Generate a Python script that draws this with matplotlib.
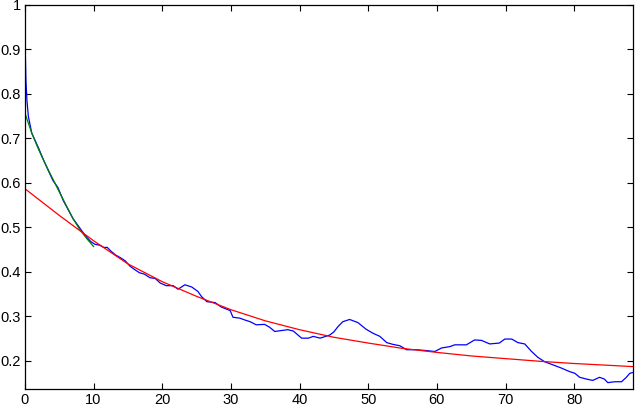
import matplotlib
matplotlib.use("Agg")
import matplotlib.pyplot as plt

# measured curve (blue)
meas_x = [0, 0.05, 0.15, 0.3, 0.5, 1.0, 1.5, 2.0, 2.7, 3.4, 4.1, 4.8, 5.6, 6.3,
          7.0, 7.7, 8.4, 9.0, 9.6, 10.2, 10.9, 11.5, 12.0, 12.5, 13.2, 13.9,
          14.6, 15.3, 16.0, 16.7, 17.4, 18.2, 19.0, 19.7, 20.6, 21.6, 22.3,
          23.3, 24.3, 25.2, 25.7, 26.5, 27.7, 28.6, 29.9, 30.3, 31.3, 32.0,
          32.8, 33.7, 34.9, 35.6, 36.4, 37.3, 38.3, 39.1, 40.3, 41.3, 42.0,
          43.0, 44.4, 45.0, 45.6, 46.3, 47.3, 48.5, 49.7, 50.7, 51.7, 52.7,
          53.6, 54.6, 55.6, 57.0, 58.5, 59.7, 60.7, 61.9, 62.6, 63.3, 64.3,
          65.5, 66.5, 67.7, 69.1, 69.9, 70.9, 71.8, 72.8, 73.8, 74.7, 75.7,
          76.9, 78.1, 79.3, 80.1, 80.8, 81.8, 82.7, 83.7, 84.4, 84.9, 85.9,
          86.9, 87.6, 88.1, 88.6]
meas_y = [1.0, 0.90, 0.83, 0.785, 0.750, 0.712, 0.695, 0.678, 0.652, 0.628,
          0.605, 0.590, 0.560, 0.540, 0.520, 0.505, 0.490, 0.478, 0.468, 0.462,
          0.460, 0.455, 0.455, 0.447, 0.438, 0.432, 0.425, 0.413, 0.405, 0.398,
          0.395, 0.387, 0.385, 0.375, 0.369, 0.369, 0.361, 0.371, 0.366, 0.356,
          0.345, 0.333, 0.331, 0.321, 0.313, 0.298, 0.296, 0.292, 0.288, 0.281,
          0.282, 0.276, 0.266, 0.268, 0.270, 0.267, 0.251, 0.251, 0.255, 0.251,
          0.258, 0.265, 0.277, 0.288, 0.293, 0.286, 0.271, 0.262, 0.255, 0.241,
          0.237, 0.234, 0.225, 0.225, 0.223, 0.221, 0.229, 0.232, 0.236, 0.236,
          0.236, 0.247, 0.246, 0.238, 0.240, 0.249, 0.249, 0.241, 0.238, 0.221,
          0.208, 0.198, 0.191, 0.184, 0.176, 0.172, 0.163, 0.159, 0.156, 0.163,
          0.159, 0.151, 0.153, 0.153, 0.163, 0.172, 0.174]

# long-range fit (red)
fit_x = [0, 5, 10, 15, 20, 25, 30, 35, 40, 45, 50, 55, 60, 65, 70, 75, 80, 85, 88.6]
fit_y = [0.587, 0.527, 0.470, 0.418, 0.378, 0.345, 0.315, 0.290, 0.270, 0.253,
         0.240, 0.228, 0.219, 0.211, 0.205, 0.199, 0.194, 0.190, 0.187]

# short-range fit (green)
early_x = [0, 1, 2, 3, 4, 5, 6, 7, 8, 9, 10]
early_y = [0.757, 0.712, 0.675, 0.642, 0.611, 0.580, 0.550, 0.520, 0.495, 0.475, 0.457]

plt.rcParams['font.family'] = ['Liberation Sans', 'DejaVu Sans']

fig = plt.figure(figsize=(6.35, 4.08), dpi=100)
ax = fig.add_axes([0.0392, 0.0458, 0.958, 0.942])

ax.plot(meas_x, meas_y, color='#0000ff', linewidth=0.9)
ax.plot(early_x, early_y, color='#008000', linewidth=0.9)
ax.plot(fit_x, fit_y, color='#ff0000', linewidth=0.9)

ax.set_xlim(0, 88.6)
ax.set_ylim(0.136, 1.0)
ax.set_xticks(range(0, 81, 10))
ax.set_yticks([0.2, 0.3, 0.4, 0.5, 0.6, 0.7, 0.8, 0.9, 1.0])
ax.set_yticklabels(['0.2', '0.3', '0.4', '0.5', '0.6', '0.7', '0.8', '0.9', '1'])
ax.tick_params(direction='in', top=True, right=True, length=4, width=0.8,
               labelsize=10.5, pad=3)
for s in ax.spines.values():
    s.set_linewidth(0.9)

fig.savefig('out.png', dpi=100)
